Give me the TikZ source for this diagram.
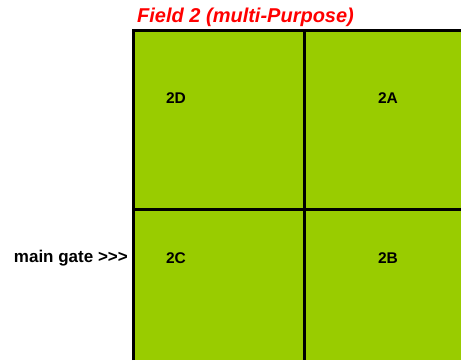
\documentclass[tikz,border=0pt]{standalone}
\usepackage{fontspec}
\setmainfont[Ligatures=NoCommon]{Liberation Sans}
\begin{document}
\begin{tikzpicture}[x=1pt,y=-1pt,
  field/.style={fill=fieldgreen},
  grid/.style={draw=black,line width=3pt},
  lbl/.style={font=\bfseries\fontsize{15.5}{18}\selectfont,anchor=base,inner sep=0pt},
  gatelbl/.style={font=\bfseries\fontsize{17}{20}\selectfont,anchor=base east,inner sep=0pt},
  ttl/.style={font=\bfseries\itshape\fontsize{20}{24}\selectfont,text=red,anchor=base west,inner sep=0pt}]
\definecolor{fieldgreen}{HTML}{99CC00}
\useasboundingbox (0,0) rectangle (461,360);
\fill[field] (133.5,30.5) rectangle (461,360);
\draw[grid] (133.5,360) -- (133.5,30.5) -- (461,30.5);
\draw[grid] (304.5,30.5) -- (304.5,360);
\draw[grid] (133.5,209) -- (461,209);
\node[ttl] (title) at (137,22) {Field 2 (multi-Purpose)};
\node[lbl] (d) at (176,103) {2D};
\node[lbl] (a) at (388,103) {2A};
\node[lbl] (c) at (176,263) {2C};
\node[lbl] (b) at (388,263) {2B};
\node[gatelbl] (gate) at (128,262.5) {main gate {>}{>}{>}};
\end{tikzpicture}
\end{document}
